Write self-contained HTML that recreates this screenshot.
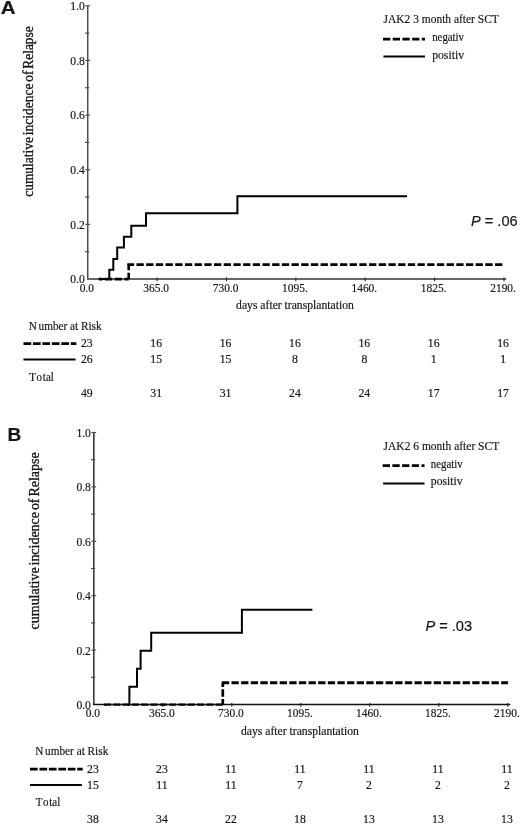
<!DOCTYPE html>
<html><head><meta charset="utf-8"><title>Cumulative incidence of relapse</title>
<style>
html,body{margin:0;padding:0;background:#fff;}
body{width:520px;height:825px;overflow:hidden;}
svg{display:block;will-change:transform;filter:blur(0.3px);}
text{stroke:#141414;stroke-width:0.18px;}

</style></head><body>
<svg width="520" height="825" viewBox="0 0 520 825" font-family='"Liberation Serif", serif' fill="#141414">
<rect width="520" height="825" fill="#fff"/>
<text transform="translate(0.70,13.90) scale(1.07,1)" font-size="19.2" font-family='"Liberation Sans", sans-serif' font-weight="bold">A</text>
<line x1="87.75" y1="5.80" x2="87.75" y2="279.60" stroke="#444" stroke-width="1.4" stroke-linecap="butt"/>
<line x1="87.05" y1="279.00" x2="506.20" y2="279.00" stroke="#676767" stroke-width="2.0" stroke-linecap="butt"/>
<text transform="translate(84.85,283.40) scale(0.9,1)" font-size="12.9" text-anchor="end">0.0</text>
<line x1="84.95" y1="251.68" x2="89.15" y2="251.68" stroke="#444" stroke-width="1.1" stroke-linecap="butt"/>
<line x1="85.35" y1="224.36" x2="90.15" y2="224.36" stroke="#444" stroke-width="1.1" stroke-linecap="butt"/>
<text transform="translate(84.85,228.76) scale(0.9,1)" font-size="12.9" text-anchor="end">0.2</text>
<line x1="84.95" y1="197.04" x2="89.15" y2="197.04" stroke="#444" stroke-width="1.1" stroke-linecap="butt"/>
<line x1="85.35" y1="169.72" x2="90.15" y2="169.72" stroke="#444" stroke-width="1.1" stroke-linecap="butt"/>
<text transform="translate(84.85,174.12) scale(0.9,1)" font-size="12.9" text-anchor="end">0.4</text>
<line x1="84.95" y1="142.40" x2="89.15" y2="142.40" stroke="#444" stroke-width="1.1" stroke-linecap="butt"/>
<line x1="85.35" y1="115.08" x2="90.15" y2="115.08" stroke="#444" stroke-width="1.1" stroke-linecap="butt"/>
<text transform="translate(84.85,119.48) scale(0.9,1)" font-size="12.9" text-anchor="end">0.6</text>
<line x1="84.95" y1="87.76" x2="89.15" y2="87.76" stroke="#444" stroke-width="1.1" stroke-linecap="butt"/>
<line x1="85.35" y1="60.44" x2="90.15" y2="60.44" stroke="#444" stroke-width="1.1" stroke-linecap="butt"/>
<text transform="translate(84.85,64.84) scale(0.9,1)" font-size="12.9" text-anchor="end">0.8</text>
<line x1="84.95" y1="33.12" x2="89.15" y2="33.12" stroke="#444" stroke-width="1.1" stroke-linecap="butt"/>
<line x1="85.35" y1="5.80" x2="90.15" y2="5.80" stroke="#444" stroke-width="1.1" stroke-linecap="butt"/>
<text transform="translate(84.85,10.20) scale(0.9,1)" font-size="12.9" text-anchor="end">1.0</text>
<text transform="translate(86.80,291.70) scale(0.86,1)" font-size="13.3" text-anchor="middle">0.0</text>
<line x1="157.08" y1="277.40" x2="157.08" y2="281.20" stroke="#222" stroke-width="1.1" stroke-linecap="butt"/>
<text transform="translate(156.18,291.70) scale(0.86,1)" font-size="13.3" text-anchor="middle">365.0</text>
<line x1="226.46" y1="277.40" x2="226.46" y2="281.20" stroke="#222" stroke-width="1.1" stroke-linecap="butt"/>
<text transform="translate(225.56,291.70) scale(0.86,1)" font-size="13.3" text-anchor="middle">730.0</text>
<line x1="295.84" y1="277.40" x2="295.84" y2="281.20" stroke="#222" stroke-width="1.1" stroke-linecap="butt"/>
<text transform="translate(294.94,291.70) scale(0.86,1)" font-size="13.3" text-anchor="middle">1095.</text>
<line x1="365.22" y1="277.40" x2="365.22" y2="281.20" stroke="#222" stroke-width="1.1" stroke-linecap="butt"/>
<text transform="translate(364.32,291.70) scale(0.86,1)" font-size="13.3" text-anchor="middle">1460.</text>
<line x1="434.60" y1="277.40" x2="434.60" y2="281.20" stroke="#222" stroke-width="1.1" stroke-linecap="butt"/>
<text transform="translate(433.70,291.70) scale(0.86,1)" font-size="13.3" text-anchor="middle">1825.</text>
<line x1="503.98" y1="277.40" x2="503.98" y2="281.20" stroke="#222" stroke-width="1.1" stroke-linecap="butt"/>
<text transform="translate(503.08,291.70) scale(0.86,1)" font-size="13.3" text-anchor="middle">2190.</text>
<text transform="translate(33.00,196.80) rotate(-90)" style="stroke-width:0.32px" font-size="14" word-spacing="-1.6" textLength="170.6" lengthAdjust="spacingAndGlyphs">cumulative incidence of Relapse</text>
<text x="236.10" y="308.60" font-size="12.3" textLength="117.7" lengthAdjust="spacingAndGlyphs">days after transplantation</text>
<text x="383.60" y="22.90" font-size="13.2" textLength="115.2" lengthAdjust="spacingAndGlyphs">JAK2 3 month after SCT</text>
<line x1="383.00" y1="39.10" x2="425.00" y2="39.10" stroke="#000" stroke-width="2.9" stroke-linecap="butt" stroke-dasharray="7.30 2.40" stroke-dashoffset="0.00"/>
<line x1="383.40" y1="56.50" x2="425.00" y2="56.50" stroke="#000" stroke-width="2.0" stroke-linecap="butt"/>
<text x="432.20" y="41.40" font-size="13.2" textLength="31.8" lengthAdjust="spacingAndGlyphs">negativ</text>
<text x="432.20" y="58.50" font-size="13.2" textLength="31.8" lengthAdjust="spacingAndGlyphs">positiv</text>
<text x="471.00" y="225.90" font-size="14.6" font-family='"Liberation Sans", sans-serif'><tspan font-style="italic">P</tspan> = .06</text>
<polyline points="98.80,279.00 109.30,279.00 109.30,269.70 113.30,269.70 113.30,258.90 117.20,258.90 117.20,247.60 123.90,247.60 123.90,236.70 131.30,236.70 131.30,225.80 146.00,225.80 146.00,213.30 237.40,213.30 237.40,196.30 407.00,196.30" fill="none" stroke="#000" stroke-width="2.0" stroke-linejoin="miter"/>
<line x1="98.80" y1="279.10" x2="128.70" y2="279.10" stroke="#000" stroke-width="2.6" stroke-linecap="butt" stroke-dasharray="7.30 2.39" stroke-dashoffset="3.50"/>
<line x1="128.70" y1="279.10" x2="128.70" y2="264.60" stroke="#000" stroke-width="2.6" stroke-linecap="butt" stroke-dasharray="7.30 2.39" stroke-dashoffset="0.90"/>
<line x1="127.40" y1="264.60" x2="503.40" y2="264.60" stroke="#000" stroke-width="2.9" stroke-linecap="butt" stroke-dasharray="7.30 2.39" stroke-dashoffset="0.59"/>
<text x="28.80" y="329.80" font-size="12.2" textLength="72.7" lengthAdjust="spacingAndGlyphs">N<tspan dx="1.8">umber at Risk</tspan></text>
<line x1="23.50" y1="343.60" x2="76.40" y2="343.60" stroke="#000" stroke-width="2.8" stroke-linecap="butt" stroke-dasharray="7.70 1.75" stroke-dashoffset="0.00"/>
<line x1="23.50" y1="359.40" x2="75.60" y2="359.40" stroke="#000" stroke-width="2.0" stroke-linecap="butt"/>
<text transform="translate(29.30,380.70) scale(0.9,1)" font-size="12.2">T<tspan dx="0.6">o</tspan><tspan dx="0.9">tal</tspan></text>
<text transform="translate(86.80,347.00) scale(0.91,1)" font-size="12.9" text-anchor="middle">23</text>
<text transform="translate(156.18,347.00) scale(0.91,1)" font-size="12.9" text-anchor="middle">16</text>
<text transform="translate(225.56,347.00) scale(0.91,1)" font-size="12.9" text-anchor="middle">16</text>
<text transform="translate(294.94,347.00) scale(0.91,1)" font-size="12.9" text-anchor="middle">16</text>
<text transform="translate(364.32,347.00) scale(0.91,1)" font-size="12.9" text-anchor="middle">16</text>
<text transform="translate(433.70,347.00) scale(0.91,1)" font-size="12.9" text-anchor="middle">16</text>
<text transform="translate(503.08,347.00) scale(0.91,1)" font-size="12.9" text-anchor="middle">16</text>
<text transform="translate(86.80,363.00) scale(0.91,1)" font-size="12.9" text-anchor="middle">26</text>
<text transform="translate(156.18,363.00) scale(0.91,1)" font-size="12.9" text-anchor="middle">15</text>
<text transform="translate(225.56,363.00) scale(0.91,1)" font-size="12.9" text-anchor="middle">15</text>
<text transform="translate(294.94,363.00) scale(0.91,1)" font-size="12.9" text-anchor="middle">8</text>
<text transform="translate(364.32,363.00) scale(0.91,1)" font-size="12.9" text-anchor="middle">8</text>
<text transform="translate(433.70,363.00) scale(0.91,1)" font-size="12.9" text-anchor="middle">1</text>
<text transform="translate(503.08,363.00) scale(0.91,1)" font-size="12.9" text-anchor="middle">1</text>
<text transform="translate(86.80,397.10) scale(0.91,1)" font-size="12.9" text-anchor="middle">49</text>
<text transform="translate(156.18,397.10) scale(0.91,1)" font-size="12.9" text-anchor="middle">31</text>
<text transform="translate(225.56,397.10) scale(0.91,1)" font-size="12.9" text-anchor="middle">31</text>
<text transform="translate(294.94,397.10) scale(0.91,1)" font-size="12.9" text-anchor="middle">24</text>
<text transform="translate(364.32,397.10) scale(0.91,1)" font-size="12.9" text-anchor="middle">24</text>
<text transform="translate(433.70,397.10) scale(0.91,1)" font-size="12.9" text-anchor="middle">17</text>
<text transform="translate(503.08,397.10) scale(0.91,1)" font-size="12.9" text-anchor="middle">17</text>
<text x="7.40" y="441.20" font-size="19" font-family='"Liberation Sans", sans-serif' font-weight="bold">B</text>
<line x1="93.80" y1="432.50" x2="93.80" y2="705.10" stroke="#3a3a3a" stroke-width="1.6" stroke-linecap="butt"/>
<line x1="93.10" y1="704.50" x2="510.30" y2="704.50" stroke="#111" stroke-width="1.3" stroke-linecap="butt"/>
<text transform="translate(90.90,708.90) scale(0.9,1)" font-size="12.9" text-anchor="end">0.0</text>
<line x1="91.00" y1="677.30" x2="95.20" y2="677.30" stroke="#444" stroke-width="1.1" stroke-linecap="butt"/>
<line x1="91.40" y1="650.10" x2="96.20" y2="650.10" stroke="#444" stroke-width="1.1" stroke-linecap="butt"/>
<text transform="translate(90.90,654.50) scale(0.9,1)" font-size="12.9" text-anchor="end">0.2</text>
<line x1="91.00" y1="622.90" x2="95.20" y2="622.90" stroke="#444" stroke-width="1.1" stroke-linecap="butt"/>
<line x1="91.40" y1="595.70" x2="96.20" y2="595.70" stroke="#444" stroke-width="1.1" stroke-linecap="butt"/>
<text transform="translate(90.90,600.10) scale(0.9,1)" font-size="12.9" text-anchor="end">0.4</text>
<line x1="91.00" y1="568.50" x2="95.20" y2="568.50" stroke="#444" stroke-width="1.1" stroke-linecap="butt"/>
<line x1="91.40" y1="541.30" x2="96.20" y2="541.30" stroke="#444" stroke-width="1.1" stroke-linecap="butt"/>
<text transform="translate(90.90,545.70) scale(0.9,1)" font-size="12.9" text-anchor="end">0.6</text>
<line x1="91.00" y1="514.10" x2="95.20" y2="514.10" stroke="#444" stroke-width="1.1" stroke-linecap="butt"/>
<line x1="91.40" y1="486.90" x2="96.20" y2="486.90" stroke="#444" stroke-width="1.1" stroke-linecap="butt"/>
<text transform="translate(90.90,491.30) scale(0.9,1)" font-size="12.9" text-anchor="end">0.8</text>
<line x1="91.00" y1="459.70" x2="95.20" y2="459.70" stroke="#444" stroke-width="1.1" stroke-linecap="butt"/>
<line x1="91.40" y1="432.50" x2="96.20" y2="432.50" stroke="#444" stroke-width="1.1" stroke-linecap="butt"/>
<text transform="translate(90.90,436.90) scale(0.9,1)" font-size="12.9" text-anchor="end">1.0</text>
<text transform="translate(92.90,717.20) scale(0.86,1)" font-size="13.3" text-anchor="middle">0.0</text>
<line x1="162.80" y1="702.90" x2="162.80" y2="706.70" stroke="#222" stroke-width="1.1" stroke-linecap="butt"/>
<text transform="translate(161.90,717.20) scale(0.86,1)" font-size="13.3" text-anchor="middle">365.0</text>
<line x1="231.80" y1="702.90" x2="231.80" y2="706.70" stroke="#222" stroke-width="1.1" stroke-linecap="butt"/>
<text transform="translate(230.90,717.20) scale(0.86,1)" font-size="13.3" text-anchor="middle">730.0</text>
<line x1="300.80" y1="702.90" x2="300.80" y2="706.70" stroke="#222" stroke-width="1.1" stroke-linecap="butt"/>
<text transform="translate(299.90,717.20) scale(0.86,1)" font-size="13.3" text-anchor="middle">1095.</text>
<line x1="369.80" y1="702.90" x2="369.80" y2="706.70" stroke="#222" stroke-width="1.1" stroke-linecap="butt"/>
<text transform="translate(368.90,717.20) scale(0.86,1)" font-size="13.3" text-anchor="middle">1460.</text>
<line x1="438.80" y1="702.90" x2="438.80" y2="706.70" stroke="#222" stroke-width="1.1" stroke-linecap="butt"/>
<text transform="translate(437.90,717.20) scale(0.86,1)" font-size="13.3" text-anchor="middle">1825.</text>
<line x1="507.80" y1="702.90" x2="507.80" y2="706.70" stroke="#222" stroke-width="1.1" stroke-linecap="butt"/>
<text transform="translate(506.90,717.20) scale(0.86,1)" font-size="13.3" text-anchor="middle">2190.</text>
<text transform="translate(38.60,629.40) rotate(-90)" style="stroke-width:0.32px" font-size="14" word-spacing="-1.6" textLength="177.0" lengthAdjust="spacingAndGlyphs">cumulative incidence of Relapse</text>
<text x="241.00" y="734.90" font-size="12.3" textLength="117.8" lengthAdjust="spacingAndGlyphs">days after transplantation</text>
<text x="383.60" y="450.20" font-size="13.2" textLength="115.6" lengthAdjust="spacingAndGlyphs">JAK2 6 month after SCT</text>
<line x1="382.70" y1="465.60" x2="424.50" y2="465.60" stroke="#000" stroke-width="2.9" stroke-linecap="butt" stroke-dasharray="7.30 2.40" stroke-dashoffset="0.00"/>
<line x1="383.10" y1="483.50" x2="424.50" y2="483.50" stroke="#000" stroke-width="2.0" stroke-linecap="butt"/>
<text x="430.80" y="467.60" font-size="12.4" textLength="31.8" lengthAdjust="spacingAndGlyphs">negativ</text>
<text x="430.80" y="485.30" font-size="12.4" textLength="31.8" lengthAdjust="spacingAndGlyphs">positiv</text>
<text x="425.40" y="630.90" font-size="14.6" font-family='"Liberation Sans", sans-serif'><tspan font-style="italic">P</tspan> = .03</text>
<polyline points="129.40,705.50 129.40,686.80 137.00,686.80 137.00,668.80 140.60,668.80 140.60,650.70 151.20,650.70 151.20,632.80 241.90,632.80 241.90,609.80 312.40,609.80" fill="none" stroke="#000" stroke-width="2.0" stroke-linejoin="miter"/>
<line x1="104.00" y1="704.70" x2="223.60" y2="704.70" stroke="#000" stroke-width="2.3" stroke-linecap="butt" stroke-dasharray="7.10 2.20" stroke-dashoffset="0.00"/>
<line x1="222.80" y1="704.70" x2="222.80" y2="682.70" stroke="#000" stroke-width="2.7" stroke-linecap="butt" stroke-dasharray="7.40 2.30" stroke-dashoffset="1.70"/>
<line x1="221.45" y1="682.70" x2="507.90" y2="682.70" stroke="#000" stroke-width="2.9" stroke-linecap="butt" stroke-dasharray="7.30 2.33" stroke-dashoffset="9.21"/>
<text x="35.20" y="755.30" font-size="12.2" textLength="73.1" lengthAdjust="spacingAndGlyphs">N<tspan dx="1.8">umber at Risk</tspan></text>
<line x1="30.00" y1="769.10" x2="82.70" y2="769.10" stroke="#000" stroke-width="2.8" stroke-linecap="butt" stroke-dasharray="7.70 1.75" stroke-dashoffset="0.00"/>
<line x1="30.00" y1="784.90" x2="81.90" y2="784.90" stroke="#000" stroke-width="2.0" stroke-linecap="butt"/>
<text transform="translate(35.70,806.20) scale(0.9,1)" font-size="12.2">T<tspan dx="0.6">o</tspan><tspan dx="0.9">tal</tspan></text>
<text transform="translate(92.90,772.50) scale(0.91,1)" font-size="12.9" text-anchor="middle">23</text>
<text transform="translate(161.90,772.50) scale(0.91,1)" font-size="12.9" text-anchor="middle">23</text>
<text transform="translate(230.90,772.50) scale(0.91,1)" font-size="12.9" text-anchor="middle">11</text>
<text transform="translate(299.90,772.50) scale(0.91,1)" font-size="12.9" text-anchor="middle">11</text>
<text transform="translate(368.90,772.50) scale(0.91,1)" font-size="12.9" text-anchor="middle">11</text>
<text transform="translate(437.90,772.50) scale(0.91,1)" font-size="12.9" text-anchor="middle">11</text>
<text transform="translate(506.90,772.50) scale(0.91,1)" font-size="12.9" text-anchor="middle">11</text>
<text transform="translate(92.90,788.50) scale(0.91,1)" font-size="12.9" text-anchor="middle">15</text>
<text transform="translate(161.90,788.50) scale(0.91,1)" font-size="12.9" text-anchor="middle">11</text>
<text transform="translate(230.90,788.50) scale(0.91,1)" font-size="12.9" text-anchor="middle">11</text>
<text transform="translate(299.90,788.50) scale(0.91,1)" font-size="12.9" text-anchor="middle">7</text>
<text transform="translate(368.90,788.50) scale(0.91,1)" font-size="12.9" text-anchor="middle">2</text>
<text transform="translate(437.90,788.50) scale(0.91,1)" font-size="12.9" text-anchor="middle">2</text>
<text transform="translate(506.90,788.50) scale(0.91,1)" font-size="12.9" text-anchor="middle">2</text>
<text transform="translate(92.90,822.60) scale(0.91,1)" font-size="12.9" text-anchor="middle">38</text>
<text transform="translate(161.90,822.60) scale(0.91,1)" font-size="12.9" text-anchor="middle">34</text>
<text transform="translate(230.90,822.60) scale(0.91,1)" font-size="12.9" text-anchor="middle">22</text>
<text transform="translate(299.90,822.60) scale(0.91,1)" font-size="12.9" text-anchor="middle">18</text>
<text transform="translate(368.90,822.60) scale(0.91,1)" font-size="12.9" text-anchor="middle">13</text>
<text transform="translate(437.90,822.60) scale(0.91,1)" font-size="12.9" text-anchor="middle">13</text>
<text transform="translate(506.90,822.60) scale(0.91,1)" font-size="12.9" text-anchor="middle">13</text>
</svg>
</body></html>
